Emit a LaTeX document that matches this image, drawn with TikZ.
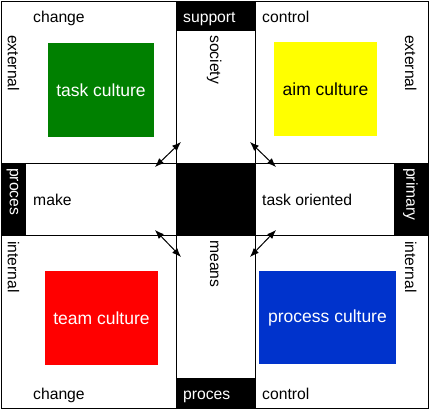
\documentclass[tikz,border=0pt]{standalone}
\usepackage{fontspec}
\setmainfont{Liberation Sans}
\usetikzlibrary{arrows.meta}

\definecolor{taskgreen}{HTML}{008000}
\definecolor{aimyellow}{HTML}{FFFF00}
\definecolor{teamred}{HTML}{FF0000}
\definecolor{procblue}{HTML}{0033CC}

\tikzset{
    panel/.style={draw, line width=0.8pt, anchor=north west, inner sep=0pt},
    culture/.style={inner sep=0pt, font=\fontsize{17.5}{20}\selectfont},
    word/.style={inner sep=0pt, font=\fontsize{15.7}{18}\selectfont},
    tag/.style={fill=black, text=white, anchor=north west, inner xsep=7pt,
                inner ysep=0pt, align=left, font=\fontsize{15.7}{18}\selectfont},
    link/.style={{Latex[length=9pt,width=7pt]}-{Latex[length=9pt,width=7pt]},
                 line width=1pt},
}

\begin{document}
\begin{tikzpicture}[x=1pt,y=-1pt]
    \useasboundingbox (0,0) rectangle (429,409);

    % middle cross
    \node[panel, minimum width=79pt, minimum height=162pt] (colN) at (176,1) {};
    \node[panel, minimum width=79pt, minimum height=173pt] (colS) at (176,235) {};
    \node[panel, minimum width=175pt, minimum height=72pt] (rowW) at (1,163) {};
    \node[panel, minimum width=173pt, minimum height=72pt] (rowE) at (255,163) {};
    \node[panel, fill=black, minimum width=79pt, minimum height=72pt] (hub) at (176,163) {};

    % quadrants
    \node[panel, minimum width=175pt, minimum height=162pt] (qNW) at (1,1) {};
    \node[panel, minimum width=173pt, minimum height=162pt] (qNE) at (255,1) {};
    \node[panel, minimum width=175pt, minimum height=173pt] (qSW) at (1,235) {};
    \node[panel, minimum width=173pt, minimum height=173pt] (qSE) at (255,235) {};

    % black tags
    \node[tag, text width=65pt, text height=21.5pt, text depth=8.5pt] (support) at (176,1) {support};
    \node[tag, text width=65pt, text height=21pt, text depth=9pt] (procS) at (176,378) {proces};
    \node[tag, rotate=-90, inner xsep=5pt, text width=62pt,
          text height=16pt, text depth=9pt] (procW) at (26,163) {proces};
    \node[tag, rotate=-90, inner xsep=5pt, text width=62pt,
          text height=21.5pt, text depth=12.5pt] (primary) at (428,163) {primary};

    % cultures
    \node[culture, fill=taskgreen, text=white, minimum width=106pt, minimum height=94pt] (task) at (101,90) {task culture};
    \node[culture, fill=aimyellow, text=black, minimum width=103pt, minimum height=94pt] (aim) at (325.5,89) {aim culture};
    \node[culture, fill=teamred, text=white, minimum width=113pt, minimum height=94pt] (team) at (101.5,318) {team culture};
    \node[culture, fill=procblue, text=white, minimum width=137pt, minimum height=93pt] (process) at (327.5,317.5) {process culture};

    % plain words
    \node[word, anchor=base west] (changeN) at (33,23) {change};
    \node[word, anchor=base west] (controlN) at (262,23) {control};
    \node[word, anchor=base west] (make) at (33,206) {make};
    \node[word, anchor=base west] (oriented) at (262,206) {task oriented};
    \node[word, anchor=base west] (changeS) at (33,399) {change};
    \node[word, anchor=base west] (controlS) at (262,399) {control};

    % turned words
    \node[word, rotate=-90, anchor=base west] (externalW) at (8,35) {external};
    \node[word, rotate=-90, anchor=base west] (externalE) at (405,35) {external};
    \node[word, rotate=-90, anchor=base west] (society) at (210,35) {society};
    \node[word, rotate=-90, anchor=base west] (means) at (210,240) {means};
    \node[word, rotate=-90, anchor=base west] (internalW) at (8,241) {internal};
    \node[word, rotate=-90, anchor=base west] (internalE) at (405,241) {internal};

    % arrow ends round the hub
    \coordinate (nwA) at (155,167);
    \coordinate (nwB) at (181,142);
    \coordinate (neA) at (250,142);
    \coordinate (neB) at (276,167);
    \coordinate (swA) at (155,230);
    \coordinate (swB) at (181,257);
    \coordinate (seA) at (276,230);
    \coordinate (seB) at (250,257);

    \foreach \c in {nw,ne,sw,se}
        \draw[link] (\c A) -- (\c B);
\end{tikzpicture}
\end{document}
